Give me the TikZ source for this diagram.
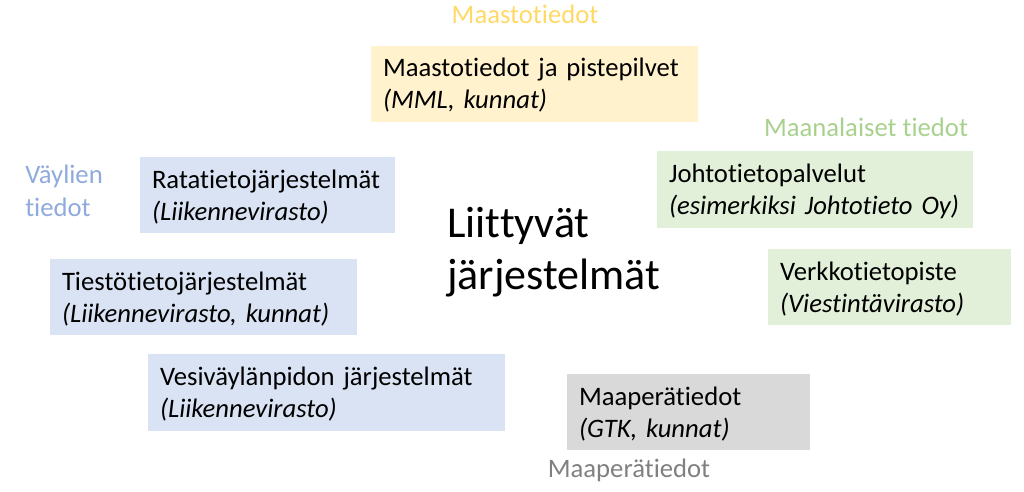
\documentclass[tikz,border=0pt]{standalone}
\usepackage{fontspec}
\setmainfont{Carlito}[Ligatures=NoCommon]
\usepackage{tikz}
\usetikzlibrary{positioning}

\definecolor{maastofill}{HTML}{FFF2CC}
\definecolor{maastotext}{HTML}{FFD966}
\definecolor{vaylafill}{HTML}{DAE3F3}
\definecolor{vaylatext}{HTML}{8FAADC}
\definecolor{maanalfill}{HTML}{E2F0D9}
\definecolor{maanaltext}{HTML}{A9D18E}
\definecolor{maaperafill}{HTML}{D9D9D9}
\definecolor{maaperatext}{HTML}{808080}

\begin{document}
\begin{tikzpicture}[x=0.75pt,y=-0.75pt,
    panel/.style={rectangle, minimum height=57pt, align=left, inner xsep=9pt, inner ysep=0pt,
        text height=10pt, text depth=20.5pt, font=\fontsize{20pt}{24pt}\selectfont},
    grouplabel/.style={align=left, inner sep=0pt, font=\fontsize{20pt}{24.75pt}\selectfont}]
                \useasboundingbox (0,0) rectangle (1024,492);

                % otsikot
                \node[grouplabel, text=maastotext] (lblmaasto) at (525,14) {Maastotiedot};
                \node[grouplabel, text=vaylatext, anchor=west] (lblvayla) at (25,191) {Väylien\\tiedot};
                \node[grouplabel, text=maanaltext] (lblmaanal) at (866,127) {Maanalaiset tiedot};
                \node[grouplabel, text=maaperatext] (lblmaapera) at (629,470) {Maaperätiedot};

                % laatikot
                \node[panel, fill=maastofill, text width=227.25pt] (maasto) at (534.5,84) {Maastotiedot ja pistepilvet\\\textit{(MML, kunnat)}};
                \node[panel, fill=vaylafill, text width=173.25pt] (rata) at (267.5,195) {Ratatietojärjestelmät\\\textit{(Liikennevirasto)}};
                \node[panel, fill=vaylafill, text width=212.25pt] (tiesto) at (203.5,297) {Tiestötietojärjestelmät\\\textit{(Liikennevirasto, kunnat)}};
                \node[panel, fill=vaylafill, text width=249.75pt, minimum height=57.75pt] (vesi) at (326.5,392.5) {Vesiväylänpidon järjestelmät\\\textit{(Liikennevirasto)}};
                \node[panel, fill=maaperafill, text width=164.25pt] (maapera) at (688.5,412) {Maaperätiedot\\\textit{(GTK, kunnat)}};
                \node[panel, fill=maanalfill, text width=219pt, minimum height=57.75pt] (johto) at (815,189.5) {Johtotietopalvelut\\\textit{(esimerkiksi Johtotieto Oy)}};
                \node[panel, fill=maanalfill, text width=164.25pt] (verkko) at (889.5,287) {Verkkotietopiste\\\textit{(Viestintävirasto)}};

                % keskiteksti
                \node[align=left, anchor=west, inner sep=0pt, font=\fontsize{33pt}{38.5pt}\selectfont] (liittyvat) at (447,252) {Liittyvät\\järjestelmät};
\end{tikzpicture}
\end{document}
